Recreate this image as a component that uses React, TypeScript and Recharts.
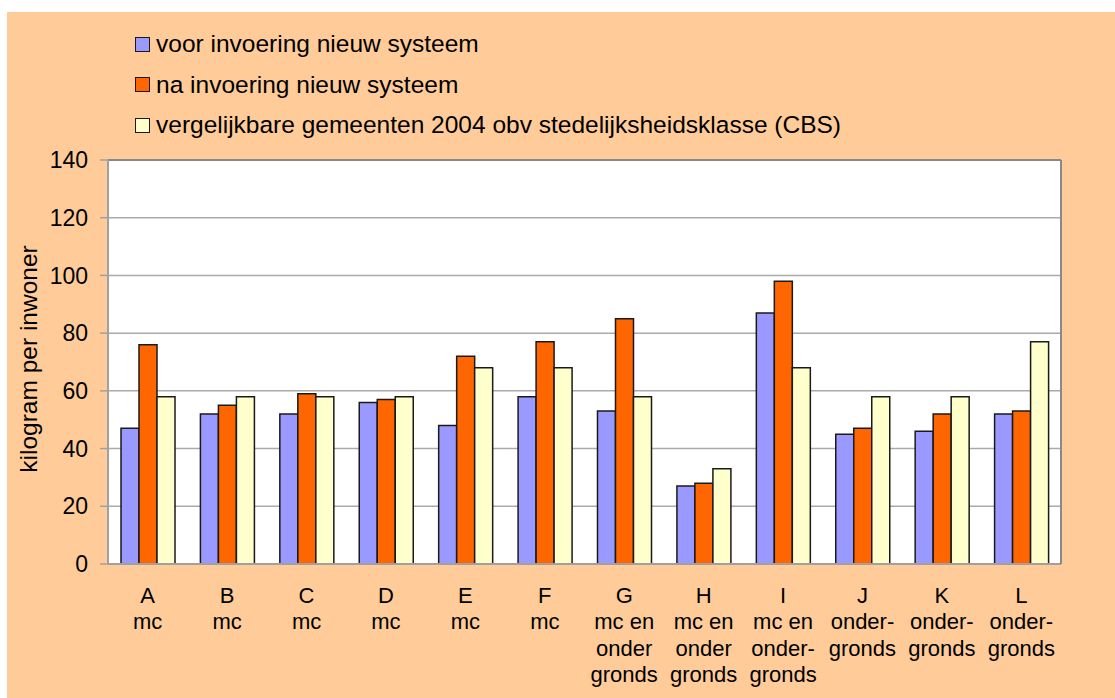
import React from 'react';
import { BarChart, Bar, XAxis, YAxis, CartesianGrid, Legend, Label, ReferenceLine } from 'recharts';

const categories = ['A', 'B', 'C', 'D', 'E', 'F', 'G', 'H', 'I', 'J', 'K', 'L'];
const categoryTypes: string[][] = [
  ['mc'], ['mc'], ['mc'], ['mc'], ['mc'], ['mc'],
  ['mc en', 'onder', 'gronds'],
  ['mc en', 'onder', 'gronds'],
  ['mc en', 'onder-', 'gronds'],
  ['onder-', 'gronds'],
  ['onder-', 'gronds'],
  ['onder-', 'gronds'],
];
const voorValues = [47, 52, 52, 56, 48, 58, 53, 27, 87, 45, 46, 52];
const naValues = [76, 55, 59, 57, 72, 77, 85, 28, 98, 47, 52, 53];
const cbsValues = [58, 58, 58, 58, 68, 68, 58, 33, 68, 58, 58, 77];
const seriesNames = [
  'voor invoering nieuw systeem',
  'na invoering nieuw systeem',
  'vergelijkbare gemeenten 2004 obv stedelijksheidsklasse (CBS)',
];
const seriesKeys = ['voor', 'na', 'cbs'];
const seriesColors = ['#9999FF', '#FF6600', '#FFFFCC'];
const yTicks = [0, 20, 40, 60, 80, 100, 120, 140];
const yLabel = 'kilogram per inwoner';

const data = categories.map((c, i) => ({
  name: c,
  voor: voorValues[i],
  na: naValues[i],
  cbs: cbsValues[i],
}));
const boundaryTicks = [...categories.map((_, i) => i), categories.length];

const FONT = "'Liberation Sans', Arial, Helvetica, sans-serif";
const GRAY = '#A0A0A0';

const XTick = (props: any) => {
  const { x, y, index } = props;
  const lines = [categories[index], ...categoryTypes[index]];
  return (
    <g>
      {lines.map((l, i) => (
        <text
          key={i}
          x={x}
          y={y + 39 + i * 26.3}
          textAnchor="middle"
          fontSize={22}
          fill="#000"
          fontFamily={FONT}
        >
          {l}
        </text>
      ))}
    </g>
  );
};

const LegendContent = () => (
  <div style={{ fontFamily: FONT, fontSize: 24.5, color: '#000' }}>
    {seriesNames.map((n, i) => (
      <div key={n} style={{ display: 'flex', alignItems: 'center', height: 40.5, whiteSpace: 'nowrap' }}>
        <span
          style={{
            width: 13,
            height: 13,
            background: seriesColors[i],
            border: '1.5px solid #1a1a1a',
            marginRight: 6,
            flex: '0 0 auto',
          }}
        />
        <span>{n}</span>
      </div>
    ))}
  </div>
);

export default function App() {
  return (
    <div style={{ position: 'absolute', left: 7, top: 12, width: 1108, height: 686, background: '#FFCC99', fontFamily: FONT }}>
      <BarChart
        width={1108}
        height={686}
        data={data}
        margin={{ top: 148, right: 0, bottom: 0, left: 0 }}
        barCategoryGap={13}
        barGap={0}
      >
        <CartesianGrid vertical={false} horizontal={true} stroke="#AAAAAA" strokeWidth={1.5} fill="#FFFFFF" fillOpacity={1} />
        <XAxis
          xAxisId="b"
          type="number"
          domain={[0, categories.length]}
          ticks={boundaryTicks}
          allowDataOverflow
          height={0}
          tick={false}
          tickSize={8}
          tickLine={{ stroke: GRAY, strokeWidth: 1.5 }}
          axisLine={false}
        />
        <XAxis
          dataKey="name"
          height={134}
          interval={0}
          tickLine={false}
          tickSize={0}
          tickMargin={0}
          axisLine={{ stroke: GRAY, strokeWidth: 2 }}
          tick={<XTick />}
        />
        <YAxis
          domain={[0, 140]}
          ticks={yTicks}
          width={101}
          tickSize={8}
          tickMargin={12}
          interval={0}
          axisLine={{ stroke: GRAY, strokeWidth: 2 }}
          tickLine={{ stroke: GRAY, strokeWidth: 1.5 }}
          tick={{ fontSize: 23, fill: '#000', fontFamily: FONT }}
        >
          <Label
            content={(p: any) => {
              const vb = p.viewBox || { x: 0, y: 148, width: 101, height: 404 };
              const cx = vb.x + 21;
              const cy = vb.y + vb.height / 2 - 3;
              return (
                <text
                  x={cx}
                  y={cy}
                  transform={`rotate(-90, ${cx}, ${cy})`}
                  textAnchor="middle"
                  dominantBaseline="central"
                  fontSize={24.5}
                  fill="#000"
                  fontFamily={FONT}
                >
                  {yLabel}
                </text>
              );
            }}
          />
        </YAxis>
        <YAxis
          yAxisId="r"
          orientation="right"
          domain={[0, 140]}
          width={54}
          tick={false}
          tickLine={false}
          axisLine={{ stroke: '#888888', strokeWidth: 2 }}
        />
        <ReferenceLine y={140} stroke="#888888" strokeWidth={2} />
        <Legend
          layout="vertical"
          align="center"
          verticalAlign="middle"
          wrapperStyle={{ top: 12, left: 128, width: 800 }}
          content={<LegendContent />}
        />
        {seriesKeys.map((k, i) => (
          <Bar
            key={k}
            dataKey={k}
            name={seriesNames[i]}
            fill={seriesColors[i]}
            stroke="#1a1a1a"
            strokeWidth={1.5}
            isAnimationActive={false}
          />
        ))}
      </BarChart>
    </div>
  );
}
